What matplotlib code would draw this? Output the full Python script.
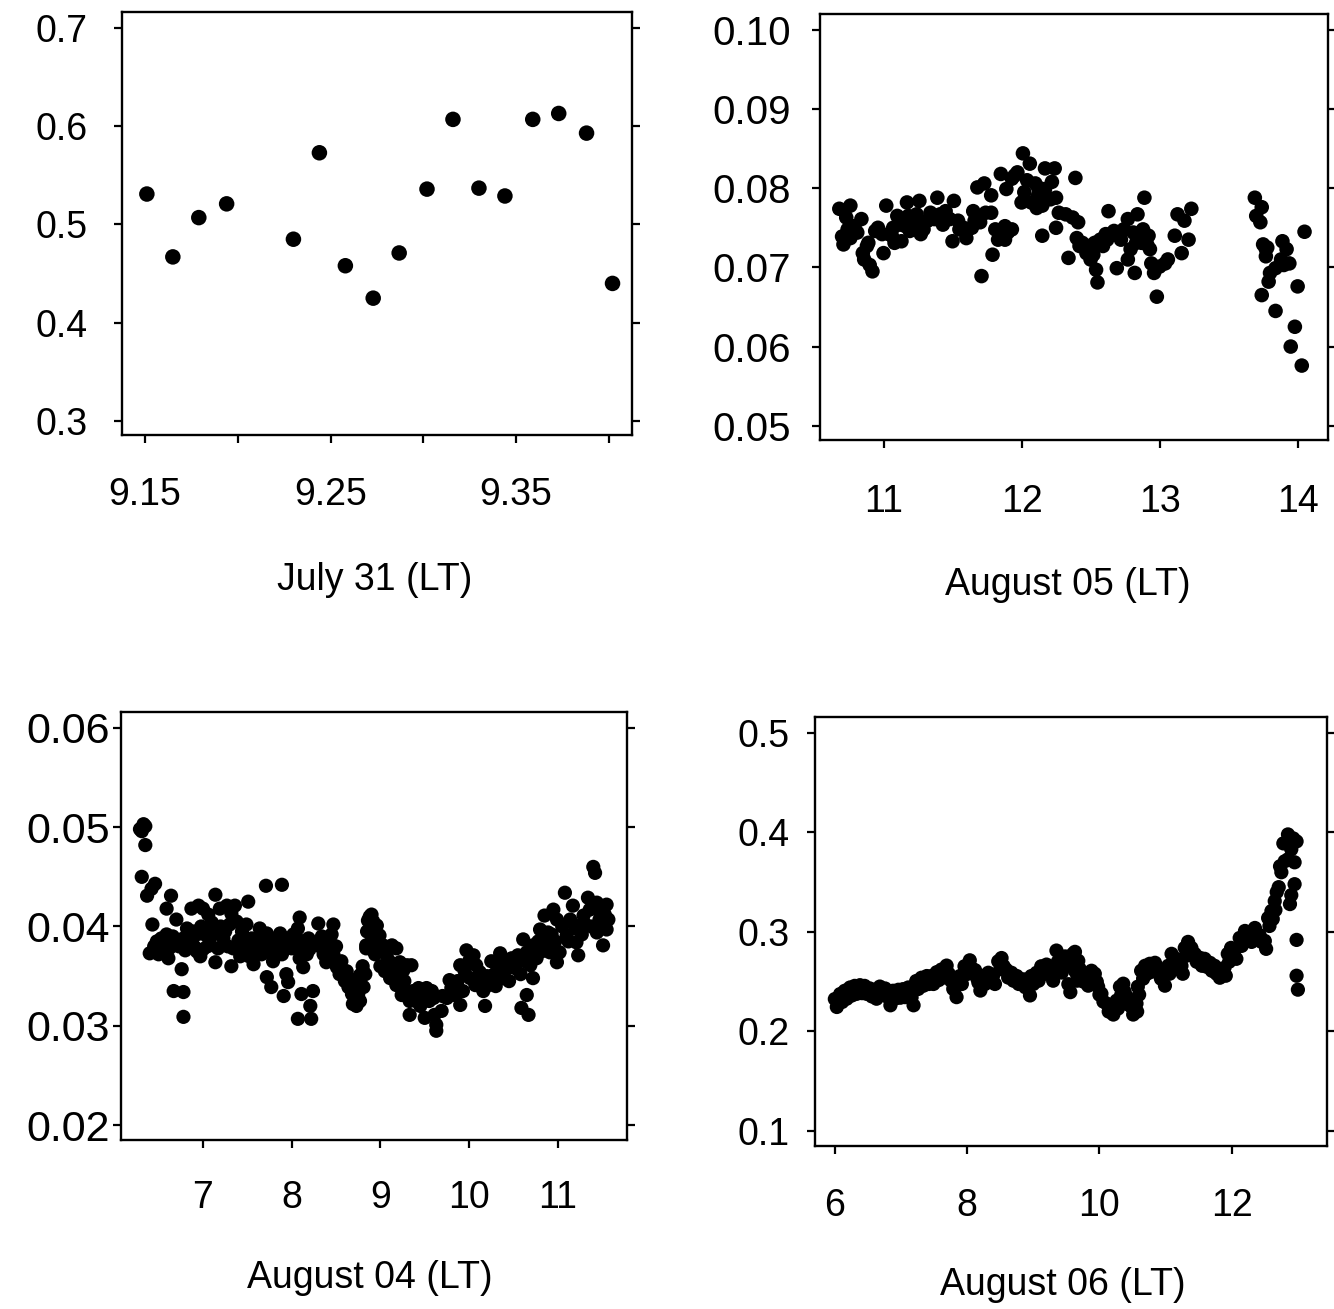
import matplotlib
matplotlib.use("Agg")
import matplotlib.pyplot as plt

plt.rcParams['font.family'] = ['Liberation Sans', 'DejaVu Sans']

# ---------------- Data ----------------
# Panel: July 31
jul31_t = [9.151, 9.165, 9.179, 9.194, 9.230, 9.244, 9.258, 9.273, 9.287,
           9.302, 9.316, 9.330, 9.344, 9.359, 9.373, 9.388, 9.402]
jul31_v = [0.531, 0.467, 0.507, 0.521, 0.485, 0.573, 0.458, 0.425, 0.471,
           0.536, 0.607, 0.537, 0.529, 0.607, 0.613, 0.593, 0.440]

# Panel: August 05
aug05_t = [10.68, 10.76, 10.73, 10.84, 10.79, 10.70, 10.71, 10.76, 10.81, 10.89,
           10.85, 10.86, 10.90, 10.92, 11.02, 11.00, 10.96, 10.94, 10.99, 11.04,
           11.07, 11.10, 11.12, 11.13, 11.17, 11.18, 11.22, 11.26, 11.24, 11.27,
           11.28, 11.32, 11.34, 11.39, 11.41, 11.44, 11.48, 11.51, 11.50, 11.54,
           11.58, 11.60, 11.65, 11.68, 11.73, 11.70, 11.74, 11.78, 11.78, 11.79,
           11.81, 11.88, 11.90, 11.88, 11.93, 11.71, 11.85, 11.89, 11.93, 11.97,
           12.01, 12.06, 12.00, 12.04, 12.10, 12.12, 12.15, 12.17, 12.24, 12.22,
           12.25, 12.21, 12.15, 12.17, 12.39, 12.25, 12.27, 12.32, 12.37, 12.41,
           12.34, 12.40, 12.44, 12.48, 12.50, 12.54, 12.55, 12.57, 12.61, 12.63,
           12.67, 12.71, 12.74, 12.77, 12.79, 12.82, 12.84, 12.86, 12.87, 12.89,
           12.92, 12.93, 12.94, 12.96, 12.98, 13.00, 13.04, 13.06, 13.11, 13.13,
           13.18, 13.16, 13.23, 13.21, 12.69, 12.77, 12.88,
           12.42, 12.47, 12.49, 12.52, 12.53, 12.59, 12.62, 12.64, 12.72, 12.81,
           12.83, 12.91, 10.74, 10.88, 11.06, 11.08, 11.16, 11.19, 11.21, 11.29,
           11.37, 11.43, 11.45, 11.55, 11.64, 11.66, 11.83, 11.95, 12.07, 12.11,
           12.19, 12.02, 12.12,
           13.69, 13.74, 13.70, 13.73, 13.75, 13.78, 13.77, 13.89, 13.92, 13.88,
           13.94, 13.84, 13.80, 13.79, 13.74, 13.84, 14.00, 13.98, 13.95, 14.03,
           14.05, 13.90, 13.77]
aug05_v = [0.0774, 0.0778, 0.0763, 0.0761, 0.0752, 0.0739, 0.0729, 0.0737, 0.0744, 0.0731,
           0.0718, 0.0710, 0.0703, 0.0695, 0.0778, 0.0718, 0.0750, 0.0746, 0.0742, 0.0742,
           0.0750, 0.0765, 0.0754, 0.0733, 0.0782, 0.0765, 0.0752, 0.0784, 0.0767, 0.0742,
           0.0757, 0.0759, 0.0769, 0.0788, 0.0767, 0.0765, 0.0761, 0.0784, 0.0733, 0.0759,
           0.0750, 0.0737, 0.0771, 0.0801, 0.0806, 0.0757, 0.0769, 0.0769, 0.0791, 0.0716,
           0.0748, 0.0752, 0.0744, 0.0735, 0.0748, 0.0689, 0.0818, 0.0799, 0.0812, 0.0820,
           0.0844, 0.0831, 0.0782, 0.0810, 0.0806, 0.0791, 0.0778, 0.0799, 0.0825, 0.0808,
           0.0788, 0.0786, 0.0740, 0.0825, 0.0813, 0.0750, 0.0769, 0.0767, 0.0763, 0.0757,
           0.0712, 0.0737, 0.0731, 0.0723, 0.0710, 0.0697, 0.0681, 0.0735, 0.0742, 0.0771,
           0.0746, 0.0744, 0.0748, 0.0761, 0.0723, 0.0693, 0.0767, 0.0744, 0.0731, 0.0788,
           0.0740, 0.0723, 0.0705, 0.0693, 0.0663, 0.0701, 0.0705, 0.0710, 0.0740, 0.0767,
           0.0759, 0.0718, 0.0774, 0.0735, 0.0699, 0.0710, 0.0748,
           0.0727, 0.0718, 0.0727, 0.0716, 0.0731, 0.0727, 0.0735, 0.0740, 0.0735, 0.0744,
           0.0731, 0.0729, 0.0748, 0.0727, 0.0740, 0.0731, 0.0752, 0.0746, 0.0761, 0.0748,
           0.0761, 0.0754, 0.0771, 0.0748, 0.0750, 0.0759, 0.0735, 0.0816, 0.0782, 0.0775,
           0.0788, 0.0795, 0.0801,
           0.0788, 0.0776, 0.0765, 0.0757, 0.0729, 0.0725, 0.0714, 0.0733, 0.0723, 0.0710,
           0.0705, 0.0699, 0.0693, 0.0682, 0.0665, 0.0645, 0.0676, 0.0625, 0.0600, 0.0576,
           0.0745, 0.0703, 0.0723]

# Panel: August 04
aug04_t = [6.29, 6.33, 6.35, 6.31, 6.35, 6.31, 6.37, 6.42, 6.46, 6.43, 6.40, 6.48, 6.53,
           6.59, 6.57, 6.61, 6.59, 6.64, 6.70, 6.67, 6.78, 6.78, 6.76, 6.70, 6.78, 6.84,
           6.89, 6.87, 6.93, 6.97, 7.00, 6.87, 6.95, 7.00, 7.06, 7.14, 7.12, 7.08, 7.14,
           7.17, 7.23, 7.19, 7.27, 7.32, 7.36, 7.38, 7.44, 7.34, 7.32, 7.42, 7.51, 7.49,
           7.55, 7.61, 7.57, 7.64, 7.68, 7.72, 7.77, 7.81, 7.79, 7.71, 7.89, 7.72, 7.77,
           7.91, 7.94, 7.96, 7.89, 7.94, 8.00, 8.06, 8.09, 8.07, 8.09, 8.13, 8.17, 8.24,
           8.11, 8.21, 8.07, 8.22, 8.19, 8.24, 8.30, 8.34, 8.39, 8.47, 8.43, 8.47, 8.39,
           8.51, 8.54, 8.60, 8.64, 8.68, 8.69, 8.73, 8.77, 8.83, 8.81, 8.75, 8.86, 8.92,
           8.84, 8.90, 8.94, 8.96,
           6.45, 6.50, 6.55, 6.62, 6.66, 6.73, 6.80, 6.82, 6.90, 6.93, 6.98, 7.02, 7.05,
           7.10, 7.20, 7.25, 7.28, 7.30, 7.40, 7.46, 7.52, 7.58, 7.62, 7.66, 7.70, 7.75,
           7.84, 7.87, 7.92, 7.98, 8.02, 8.10, 8.15, 8.20, 8.27, 8.32, 8.36, 8.42, 8.45,
           8.50, 8.56, 8.62, 8.66, 8.71, 8.80, 8.85, 8.88,
           8.77, 8.81, 8.77, 8.84, 8.90, 8.96, 8.99, 8.94, 8.88, 9.03, 9.07, 9.13, 9.18,
           9.15, 9.22, 9.26, 9.30, 9.35, 9.11, 9.18, 9.24, 9.30, 9.33, 9.37, 9.43, 9.46,
           9.52, 9.58, 9.60, 9.33, 9.50, 9.61, 9.63, 9.63, 9.69, 9.75, 9.78, 9.84, 9.90,
           9.93, 9.90, 9.97, 10.05, 10.08, 10.01, 10.07, 10.12, 10.16, 10.18, 10.22, 10.27,
           10.31, 10.35, 10.38, 10.42, 10.48, 10.52, 10.55, 10.61, 10.65, 10.69, 10.65,
           10.59, 10.67, 10.72, 10.76, 10.72, 10.80, 10.85, 10.89, 10.95, 10.99, 10.91,
           10.99, 11.02, 11.08, 11.10, 11.14, 11.17, 11.21, 11.23, 11.25, 11.29, 11.34,
           11.36, 11.40, 11.42, 11.44, 11.47, 11.51, 11.55, 11.57, 11.55, 11.51, 11.44,
           9.00, 9.05, 9.10, 9.20, 9.27, 9.40, 9.45, 9.55, 9.70, 9.80, 9.87, 9.95, 10.00,
           10.10, 10.20, 10.25, 10.30, 10.40, 10.45, 10.50, 10.58, 10.63, 10.70, 10.78,
           10.82, 10.87, 10.93, 10.97, 11.05, 11.12, 11.20, 11.27, 11.31, 11.38, 11.48,
           11.53]
aug04_v = [0.0498, 0.0503, 0.0501, 0.0496, 0.0482, 0.0450, 0.0431, 0.0438, 0.0443, 0.0402,
           0.0373, 0.0385, 0.0388, 0.0392, 0.0377, 0.0368, 0.0418, 0.0431, 0.0407, 0.0335,
           0.0334, 0.0309, 0.0357, 0.0385, 0.0388, 0.0393, 0.0395, 0.0385, 0.0375, 0.0370,
           0.0377, 0.0418, 0.0421, 0.0418, 0.0412, 0.0432, 0.0395, 0.0388, 0.0364, 0.0378,
           0.0388, 0.0418, 0.0421, 0.0413, 0.0421, 0.0405, 0.0395, 0.0378, 0.0360, 0.0370,
           0.0425, 0.0402, 0.0388, 0.0375, 0.0362, 0.0398, 0.0385, 0.0393, 0.0388, 0.0377,
           0.0365, 0.0441, 0.0442, 0.0349, 0.0339, 0.0330, 0.0352, 0.0344, 0.0372, 0.0388,
           0.0378, 0.0388, 0.0409, 0.0398, 0.0368, 0.0359, 0.0372, 0.0335, 0.0332, 0.0320,
           0.0307, 0.0307, 0.0388, 0.0382, 0.0403, 0.0390, 0.0378, 0.0402, 0.0385, 0.0372,
           0.0364, 0.0359, 0.0352, 0.0345, 0.0339, 0.0332, 0.0322, 0.0320, 0.0345, 0.0352,
           0.0339, 0.0332, 0.0406, 0.0405, 0.0378, 0.0385, 0.0372, 0.0392,
           0.0380, 0.0372, 0.0383, 0.0378, 0.0390, 0.0380, 0.0376, 0.0398, 0.0380, 0.0392,
           0.0400, 0.0392, 0.0380, 0.0404, 0.0400, 0.0395, 0.0380, 0.0402, 0.0386, 0.0380,
           0.0370, 0.0378, 0.0386, 0.0372, 0.0380, 0.0375, 0.0385, 0.0393, 0.0380, 0.0385,
           0.0392, 0.0380, 0.0385, 0.0377, 0.0384, 0.0380, 0.0372, 0.0368, 0.0392, 0.0380,
           0.0365, 0.0355, 0.0347, 0.0340, 0.0360, 0.0395, 0.0410,
           0.0351, 0.0354, 0.0325, 0.0381, 0.0412, 0.0401, 0.0391, 0.0374, 0.0378, 0.0381,
           0.0371, 0.0381, 0.0378, 0.0361, 0.0364, 0.0356, 0.0361, 0.0361, 0.0348, 0.0341,
           0.0331, 0.0335, 0.0325, 0.0335, 0.0338, 0.0331, 0.0338, 0.0335, 0.0328, 0.0311,
           0.0308, 0.0311, 0.0301, 0.0295, 0.0315, 0.0328, 0.0346, 0.0331, 0.0321, 0.0335,
           0.0361, 0.0376, 0.0371, 0.0361, 0.0348, 0.0341, 0.0354, 0.0335, 0.0320, 0.0341,
           0.0351, 0.0361, 0.0373, 0.0348, 0.0364, 0.0368, 0.0358, 0.0371, 0.0387, 0.0374,
           0.0361, 0.0331, 0.0318, 0.0311, 0.0348, 0.0368, 0.0381, 0.0397, 0.0411, 0.0394,
           0.0417, 0.0407, 0.0374, 0.0364, 0.0374, 0.0434, 0.0391, 0.0407, 0.0421, 0.0384,
           0.0371, 0.0401, 0.0411, 0.0429, 0.0417, 0.0460, 0.0454, 0.0424, 0.0407, 0.0401,
           0.0422, 0.0407, 0.0397, 0.0381, 0.0394,
           0.0360, 0.0355, 0.0365, 0.0350, 0.0345, 0.0325, 0.0320, 0.0325, 0.0330, 0.0338,
           0.0345, 0.0355, 0.0365, 0.0345, 0.0350, 0.0365, 0.0340, 0.0355, 0.0345, 0.0362,
           0.0352, 0.0365, 0.0378, 0.0385, 0.0375, 0.0382, 0.0392, 0.0385, 0.0400, 0.0385,
           0.0398, 0.0392, 0.0402, 0.0400, 0.0415, 0.0412]

# Panel: August 06
aug06_t = [6.00, 6.03, 6.08, 6.11, 6.15, 6.18, 6.23, 6.26, 6.30, 6.33, 6.38, 6.41,
           6.45, 6.48, 6.53, 6.56, 6.60, 6.63, 6.68, 6.71, 6.76, 6.79, 6.81, 6.84,
           6.88, 6.91, 6.96, 6.99, 7.03, 7.06, 7.11, 7.14, 7.16, 7.19, 7.23, 7.26,
           7.31, 7.34, 7.39, 7.42, 7.46, 7.49, 7.54, 7.57, 7.61, 7.64, 7.69, 7.72,
           7.76, 7.79, 7.81, 7.84, 7.89, 7.92, 7.96, 7.99, 8.04, 8.07, 8.12, 8.15,
           8.17, 8.20, 8.24, 8.27, 8.32, 8.35, 8.39, 8.42, 8.47, 8.50, 8.52, 8.55,
           8.59, 8.62, 8.67, 8.70, 8.75, 8.78, 8.85, 8.88, 8.92, 8.95, 8.97, 9.00,
           9.05, 9.08, 9.12, 9.15, 9.20, 9.23, 9.27, 9.30, 9.35, 9.37, 9.40, 9.43,
           9.48, 9.50, 9.53, 9.56, 9.60, 9.62, 9.65, 9.66,
           9.63, 9.63, 9.63,
           9.68, 9.70, 9.73, 9.76, 9.80, 9.83, 9.88, 9.90, 9.93, 9.96, 9.98, 10.00,
           10.03, 10.06, 10.11, 10.14, 10.18, 10.21, 10.26, 10.28, 10.31, 10.33,
           10.36, 10.38, 10.41, 10.44, 10.48, 10.51, 10.56, 10.57, 10.58, 10.60,
           10.63, 10.66, 10.69, 10.72, 10.76, 10.79, 10.84, 10.87, 10.91, 10.93,
           10.96, 10.99, 11.04, 11.06, 11.09, 11.12, 11.16, 11.19, 11.24, 11.26,
           11.29, 11.31, 11.34, 11.36, 11.39, 11.41, 11.44, 11.47, 11.52, 11.55,
           11.59, 11.62, 11.67, 11.70, 11.74, 11.77, 11.82, 11.80, 11.89, 11.91,
           11.94, 11.96, 11.99, 12.02, 12.04, 12.07, 12.12, 12.15, 12.20, 12.23,
           12.27, 12.30, 12.35, 12.38, 12.42, 12.45, 12.50, 12.52, 12.55, 12.57,
           12.60, 12.62, 12.65, 12.66, 12.68, 12.71, 12.73, 12.75, 12.80, 12.78,
           12.85, 12.93, 12.98, 12.90, 12.95, 12.85, 12.95, 12.90, 12.88, 12.98,
           12.98, 13.00]
aug06_v = [0.2326, 0.2246, 0.2376, 0.2296, 0.2409, 0.2329, 0.2442, 0.2362, 0.2458, 0.2378,
           0.2465, 0.2385, 0.2458, 0.2378, 0.2432, 0.2352, 0.2409, 0.2329, 0.2451, 0.2371,
           0.2432, 0.2352, 0.2343, 0.2263, 0.2409, 0.2329, 0.2419, 0.2339, 0.2425, 0.2345,
           0.2442, 0.2362, 0.2343, 0.2263, 0.2507, 0.2427, 0.2540, 0.2460, 0.2557, 0.2477,
           0.2557, 0.2477, 0.2596, 0.2516, 0.2622, 0.2542, 0.2662, 0.2582, 0.2507, 0.2427,
           0.2425, 0.2345, 0.2557, 0.2477, 0.2655, 0.2575, 0.2715, 0.2635, 0.2616, 0.2536,
           0.2491, 0.2411, 0.2557, 0.2477, 0.2590, 0.2510, 0.2557, 0.2477, 0.2705, 0.2625,
           0.2738, 0.2658, 0.2622, 0.2542, 0.2590, 0.2510, 0.2557, 0.2477, 0.2524, 0.2444,
           0.2442, 0.2362, 0.2557, 0.2477, 0.2590, 0.2510, 0.2655, 0.2575, 0.2672, 0.2592,
           0.2590, 0.2510, 0.2813, 0.2700, 0.2672, 0.2592, 0.2754, 0.2660, 0.2475, 0.2395,
           0.2780, 0.2650, 0.2590, 0.2510,
           0.280, 0.274, 0.261,
           0.271, 0.263, 0.258, 0.250, 0.254, 0.246, 0.261, 0.253, 0.258, 0.250, 0.245, 0.237,
           0.238, 0.230, 0.228, 0.220, 0.225, 0.217, 0.231, 0.223, 0.245, 0.237,
           0.248, 0.240, 0.235, 0.227, 0.225, 0.217, 0.228, 0.220, 0.245, 0.237,
           0.261, 0.253, 0.266, 0.258, 0.268, 0.260, 0.269, 0.261, 0.261, 0.253,
           0.254, 0.246, 0.266, 0.258, 0.278, 0.270, 0.273, 0.265, 0.266, 0.258,
           0.284, 0.276, 0.290, 0.283, 0.284, 0.276, 0.278, 0.270, 0.274, 0.266,
           0.273, 0.265, 0.269, 0.261, 0.266, 0.258, 0.254, 0.258, 0.264, 0.256,
           0.278, 0.270, 0.284, 0.276, 0.281, 0.273, 0.294, 0.286, 0.301, 0.293,
           0.297, 0.290, 0.304, 0.296, 0.297, 0.290, 0.291, 0.283, 0.314, 0.306,
           0.321, 0.313, 0.331, 0.322, 0.340, 0.345, 0.366, 0.360, 0.371, 0.389,
           0.398, 0.394, 0.391, 0.383, 0.370, 0.373, 0.348, 0.337, 0.328, 0.292,
           0.256, 0.242]

# Axis ticks / labels
jul31_xticks = [9.15, 9.20, 9.25, 9.30, 9.35, 9.40]
jul31_xlabels = ["9.15", "", "9.25", "", "9.35", ""]
jul31_yticks = [0.3, 0.4, 0.5, 0.6, 0.7]
aug05_xticks = [11, 12, 13, 14]
aug05_yticks = [0.05, 0.06, 0.07, 0.08, 0.09, 0.10]
aug04_xticks = [7, 8, 9, 10, 11]
aug04_yticks = [0.02, 0.03, 0.04, 0.05, 0.06]
aug06_xticks = [6, 8, 10, 12]
aug06_yticks = [0.1, 0.2, 0.3, 0.4, 0.5]

titles = ["July 31 (LT)", "August 05 (LT)", "August 04 (LT)", "August 06 (LT)"]

# ---------------- Figure ----------------
W, H = 1334, 1309
fig = plt.figure(figsize=(W / 100, H / 100), dpi=100)
FS = 27


def make_ax(l, r, t, b):
    return fig.add_axes([l / W, 1 - b / H, (r - l) / W, (b - t) / H])


def style(ax, xpad, ypad, ysize=FS):
    for s in ax.spines.values():
        s.set_linewidth(1.7)
    ax.tick_params(axis='both', which='both', direction='out', length=6,
                   width=1.6, labelsize=FS, right=True, top=False)
    ax.tick_params(axis='x', pad=xpad)
    ax.tick_params(axis='y', pad=ypad, labelsize=ysize)


# July 31
ax1 = make_ax(122, 632, 12, 435)
ax1.scatter(jul31_t, jul31_v, s=125, c='black', edgecolors='none')
ax1.set_xlim(9.1376, 9.4125)
ax1.set_ylim(0.2857, 0.7163)
ax1.set_xticks(jul31_xticks)
ax1.set_xticklabels(jul31_xlabels)
ax1.set_yticks(jul31_yticks)
ax1.set_yticklabels(["0.3", "0.4", "0.5", "0.6", "0.7"])
style(ax1, 24, 19)

# August 05
ax2 = make_ax(820, 1328, 14, 440)
ax2.scatter(aug05_t, aug05_v, s=110, c='black', edgecolors='none')
ax2.set_xlim(10.54, 14.22)
ax2.set_ylim(0.0482, 0.1020)
ax2.set_xticks(aug05_xticks)
ax2.set_xticklabels([str(v) for v in aug05_xticks])
ax2.set_yticks(aug05_yticks)
ax2.set_yticklabels(["%.2f" % v for v in aug05_yticks])
style(ax2, 26, 15, 29)

# August 04
ax3 = make_ax(121, 627, 712, 1140)
ax3.scatter(aug04_t, aug04_v, s=105, c='black', edgecolors='none')
ax3.set_xlim(6.076, 11.78)
ax3.set_ylim(0.0185, 0.0616)
ax3.set_xticks(aug04_xticks)
ax3.set_xticklabels([str(v) for v in aug04_xticks])
ax3.set_yticks(aug04_yticks)
ax3.set_yticklabels(["%.2f" % v for v in aug04_yticks])
style(ax3, 23, 2, 31)

# August 06
ax4 = make_ax(815, 1327, 717, 1146)
ax4.scatter(aug06_t, aug06_v, s=105, c='black', edgecolors='none')
ax4.set_xlim(5.70, 13.44)
ax4.set_ylim(0.0849, 0.516)
ax4.set_xticks(aug06_xticks)
ax4.set_xticklabels([str(v) for v in aug06_xticks])
ax4.set_yticks(aug06_yticks)
ax4.set_yticklabels(["%.1f" % v for v in aug06_yticks])
style(ax4, 24, 12)

# x-axis titles
fig.text(375 / W, 1 - 580 / H, titles[0], ha='center', va='center', fontsize=FS)
fig.text(1068 / W, 1 - 585 / H, titles[1], ha='center', va='center', fontsize=FS)
fig.text(370 / W, 1 - 1278 / H, titles[2], ha='center', va='center', fontsize=FS)
fig.text(1063 / W, 1 - 1285 / H, titles[3], ha='center', va='center', fontsize=FS)

fig.savefig("out.png", dpi=100)
